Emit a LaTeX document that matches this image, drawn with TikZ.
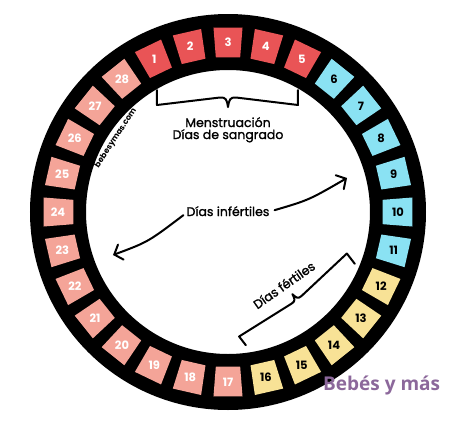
\documentclass[tikz,border=0pt]{standalone}
\usepackage{fontspec}
\usetikzlibrary{arrows.meta}
\newfontfamily\pop{Poppins}
\newfontfamily\popm{Poppins}[FakeBold=1.3]
\newfontfamily\opsans{Open Sans}
\definecolor{cred}{RGB}{233,84,86}
\definecolor{cpink}{RGB}{244,164,152}
\definecolor{ccyan}{RGB}{138,226,243}
\definecolor{cyell}{RGB}{248,226,150}
\definecolor{cpurp}{RGB}{140,104,155}
\tikzset{
  daynum/.style={inner sep=0pt, font=\pop\bfseries\fontsize{11.5}{11.5}\selectfont},
  lbl/.style={inner sep=0pt, font=\popm\fontsize{12.5}{13}\selectfont},
  arr/.style={line width=2pt, line cap=round, -{Straight Barb[length=7pt,width=16pt,line cap=round]}},
  bracestroke/.style={line width=2pt, line join=round, line cap=round}
}
\begin{document}
\begin{tikzpicture}[x=1pt,y=1pt]
\fill[white] (-228,-212) rectangle (222,212);
\useasboundingbox (-228,-212) rectangle (222,212);
% ring
\fill[black,even odd rule] (0,0) circle[radius=198pt] (0,0) circle[radius=142pt];
% day cells
\foreach \k in {1,...,28}{
  \pgfmathsetmacro{\ang}{90-(\k-3)*360/28}
  \pgfmathsetmacro{\angA}{\ang-4.5}
  \pgfmathsetmacro{\angB}{\ang+4.5}
  \ifnum\k<6 \def\cc{cred}\def\tc{white}\else
   \ifnum\k<12 \def\cc{ccyan}\def\tc{black}\else
    \ifnum\k<17 \def\cc{cyell}\def\tc{black}\else
     \def\cc{cpink}\def\tc{white}\fi\fi\fi
  \fill[\cc] (\angA:155) -- (\angB:155) -- (\angB:185) -- (\angA:185) -- cycle;
  \node[daynum, text=\tc] (d\k) at (\ang:170) {\k};
}
% menstruation brace
\draw[bracestroke] (-71,122) -- (-71,107) -- (-8,114.5) .. controls (-2,115) and (-1,112) .. (0,105)
  .. controls (1,112) and (2,115) .. (8,114.5) -- (70,107) -- (70,122);
\node[lbl, anchor=base] (mens) at (0,85) {Menstruación};
\node[lbl, anchor=base] (sang) at (0,73) {Días de sangrado};
% infertile
\node[lbl, anchor=base] (inf) at (0,-4) {Días infértiles};
\coordinate (rtip) at (119,34);
\coordinate (ltip) at (-115,-43);
\draw[arr] ([xshift=5pt,yshift=1pt]inf.east) .. controls (81,12) .. (rtip);
\draw[arr] ([xshift=-3pt,yshift=-4pt]inf.west) .. controls (-80,-30) .. (ltip);
% fertile brace
\begin{scope}[shift={(65,-83)}, rotate=37.6]
\draw[bracestroke] (-68,-11) -- (-68,0) -- (-6,-6) .. controls (-1.5,-6.3) and (-0.8,-4) .. (0,1)
  .. controls (0.8,-4) and (1.5,-6.3) .. (6,-6) -- (68,0) -- (68,-13);
\end{scope}
\node[lbl, rotate=35] (fert) at (56,-73) {Días fértiles};
% watermark
\node[inner sep=0pt, rotate=57, font=\pop\bfseries\fontsize{8}{8}\selectfont] (web) at (-112,74) {bebesymas.com};
\node[inner sep=0pt, anchor=base west, text=cpurp, font=\opsans\bfseries\fontsize{19}{19}\selectfont] (logo) at (95,-178) {Bebés y más};
\end{tikzpicture}
\end{document}
